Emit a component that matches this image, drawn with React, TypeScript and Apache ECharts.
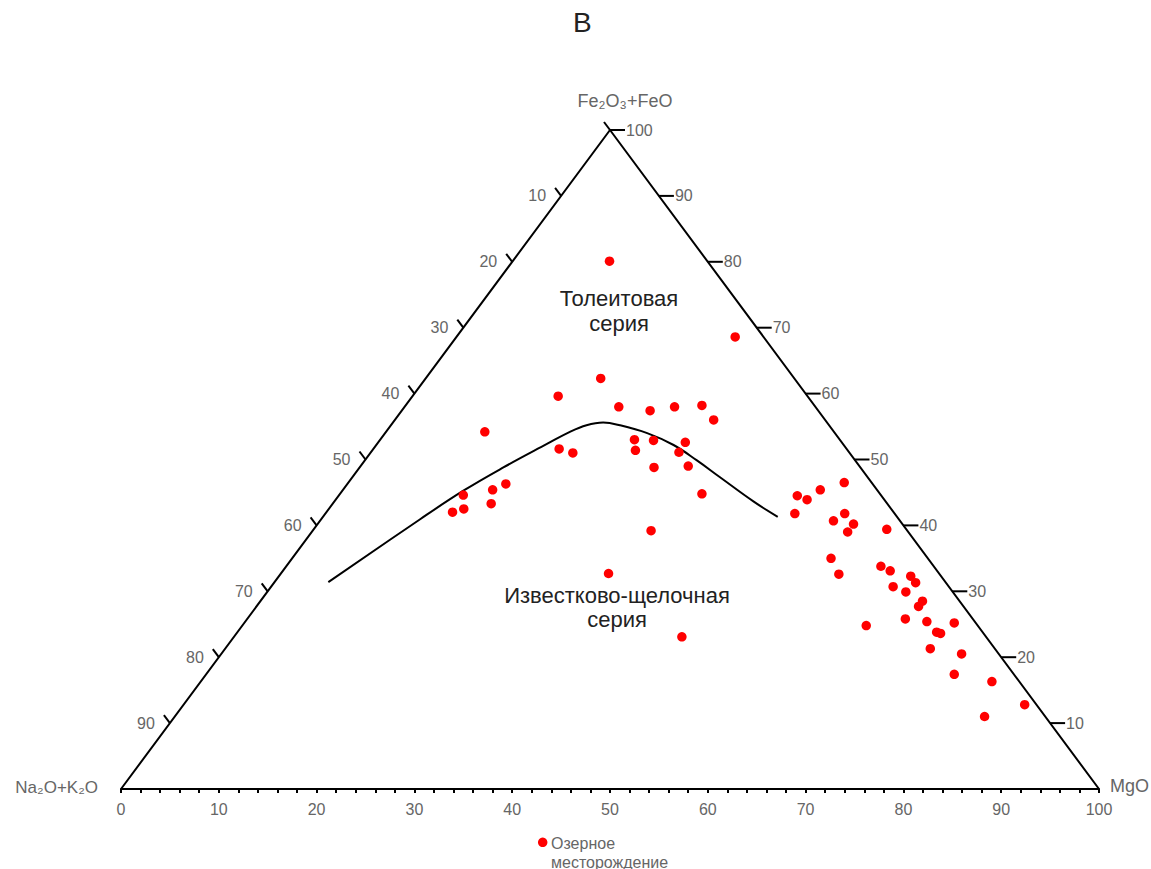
import React, { useEffect, useRef } from "react";
import * as echarts from "echarts";

const FONT = "'Liberation Sans', Arial, sans-serif";

const titleText = "В";
const seriesName = "Озерное\nместорождение";
const topName = "Fe₂O₃+FeO";
const leftName = "Na₂O+K₂O";
const rightName = "MgO";
const fieldUpper = "Толеитовая\nсерия";
const fieldLower = "Известково-щелочная\nсерия";

// Sample compositions (%): Fe2O3+FeO and MgO; Na2O+K2O is the remainder to 100
const pointFe = [
  80.1, 68.6, 62.3, 59.6, 58.0, 57.4, 58.0, 58.2, 56.0, 54.2,
  53.0, 52.9, 52.6, 51.6, 51.0, 51.4, 51.1, 48.8, 49.0, 46.3,
  45.4, 44.6, 44.8, 43.3, 42.5, 42.0, 39.2, 32.7, 23.1,
  46.5, 45.4, 44.5, 43.9, 41.8, 41.8, 40.7, 40.2, 39.0, 39.4,
  35.0, 32.6, 33.8, 33.1, 32.3, 31.3, 30.7, 29.9, 28.5, 27.7,
  24.8, 25.8, 25.4, 25.2, 23.8, 23.6, 21.3, 20.5, 17.4, 16.3,
  12.8, 11.0,
];
const pointMg = [
  9.9, 28.5, 17.9, 14.9, 21.9, 25.4, 27.6, 30.3, 32.6, 10.1,
  26.0, 28.0, 31.4, 19.0, 20.7, 26.9, 31.5, 30.1, 33.5, 16.2,
  15.3, 12.7, 37.0, 16.2, 13.8, 12.9, 34.6, 33.5, 45.8,
  50.7, 48.8, 46.9, 48.2, 48.0, 53.1, 52.5, 54.8, 54.8, 58.6,
  55.1, 57.1, 60.8, 62.1, 64.6, 65.6, 63.6, 65.3, 67.7, 67.7,
  63.8, 67.3, 69.7, 72.6, 71.5, 72.0, 72.1, 75.7, 76.5, 80.9,
  86.0, 82.8,
];

// Boundary between tholeiitic and calc-alkaline series
const curveFe = [31.4, 40.9, 45.3, 48.8, 52.4, 54.2, 55.2, 55.6, 55.2, 54.0, 52.2, 49.9, 47.3, 43.6, 41.3];
const curveMg = [5.5, 10.1, 12.4, 14.7, 17.4, 18.8, 20.0, 21.5, 23.4, 26.8, 30.4, 33.9, 37.6, 42.9, 46.5];

const leftTicks = [0, 10, 20, 30, 40, 50, 60, 70, 80, 90]; // Na2O+K2O
const rightTicks = [10, 20, 30, 40, 50, 60, 70, 80, 90, 100]; // Fe2O3+FeO

const toXY = (fe: number, mg: number) => [mg + fe / 2, fe];

export default function App() {
  const ref = useRef<HTMLDivElement>(null);

  useEffect(() => {
    document.body.style.margin = "0";
    if (!ref.current) return;
    const chart = echarts.init(ref.current, null, { renderer: "svg" });

    const points = pointFe.map((fe, i) => toXY(fe, pointMg[i]));
    const curve = curveFe.map((fe, i) => toXY(fe, curveMg[i]));

    chart.setOption({
      animation: false,
      backgroundColor: "#fff",
      textStyle: { fontFamily: FONT },
      title: {
        text: titleText,
        left: 573,
        top: 8,
        padding: 0,
        textStyle: { fontSize: 28, fontWeight: "normal", color: "#222", fontFamily: FONT },
      },
      grid: { left: 121, right: 52, top: 130, bottom: 80 },
      xAxis: {
        type: "value",
        min: 0,
        max: 100,
        interval: 2,
        axisLine: { show: true, lineStyle: { color: "#000", width: 2 } },
        axisTick: { show: true, length: 4, lineStyle: { color: "#000", width: 2 } },
        axisLabel: {
          interval: 0,
          margin: 12,
          color: "#666",
          fontSize: 16,
          fontFamily: FONT,
          showMinLabel: true,
          showMaxLabel: true,
          formatter: (v: number) => (Math.round(v) % 10 === 0 ? String(Math.round(v)) : ""),
        },
        splitLine: { show: false },
      },
      yAxis: {
        type: "value",
        min: 0,
        max: 100,
        show: false,
      },
      graphic: [
        {
          type: "text",
          x: 625,
          y: 101,
          style: { text: topName, align: "center", verticalAlign: "middle", fill: "#666", fontSize: 18, fontFamily: FONT },
        },
        {
          type: "text",
          x: 98,
          y: 787,
          style: { text: leftName, align: "right", verticalAlign: "middle", fill: "#666", fontSize: 17, fontFamily: FONT },
        },
        {
          type: "text",
          x: 1110,
          y: 786,
          style: { text: rightName, align: "left", verticalAlign: "middle", fill: "#666", fontSize: 18, fontFamily: FONT },
        },
        {
          type: "text",
          x: 619,
          y: 311,
          style: { text: fieldUpper, align: "center", verticalAlign: "middle", fill: "#222", fontSize: 22, lineHeight: 25, fontFamily: FONT },
        },
        {
          type: "text",
          x: 617,
          y: 607,
          style: { text: fieldLower, align: "center", verticalAlign: "middle", fill: "#222", fontSize: 22, lineHeight: 24, fontFamily: FONT },
        },
        // legend
        {
          type: "circle",
          shape: { cx: 542.7, cy: 842.3, r: 4.75 },
          style: { fill: "#ff0000" },
        },
        {
          type: "text",
          x: 551,
          y: 852.5,
          style: { text: seriesName, align: "left", verticalAlign: "middle", fill: "#666", fontSize: 16, lineHeight: 19, fontFamily: FONT },
        },
      ],
      series: [
        {
          type: "line",
          name: "edges",
          data: [[0, 0], [50, 100], [100, 0]],
          symbol: "none",
          lineStyle: { color: "#000", width: 2 },
          silent: true,
          clip: false,
          z: 3,
        },
        {
          type: "line",
          name: "boundary",
          data: curve,
          symbol: "none",
          smooth: 0.4,
          lineStyle: { color: "#000", width: 2 },
          silent: true,
          z: 3,
        },
        {
          type: "custom",
          name: "leftTicks",
          data: leftTicks.map((v) => [v]),
          silent: true,
          z: 4,
          renderItem: (_p: any, api: any) => {
            const v = api.value(0);
            const p = api.coord([(100 - v) / 2, 100 - v]);
            const children: any[] = [
              { type: "line", shape: { x1: p[0], y1: p[1], x2: p[0] - 6, y2: p[1] - 8 }, style: { stroke: "#000", lineWidth: 2 } },
            ];
            if (v > 0) {
              children.push({
                type: "text",
                x: p[0] - 15,
                y: p[1],
                style: { text: String(v), align: "right", verticalAlign: "middle", fill: "#666", fontSize: 16, fontFamily: FONT },
              });
            }
            return { type: "group", children };
          },
        },
        {
          type: "custom",
          name: "rightTicks",
          data: rightTicks.map((v) => [v]),
          silent: true,
          z: 4,
          renderItem: (_p: any, api: any) => {
            const v = api.value(0);
            const p = api.coord([100 - v / 2, v]);
            return {
              type: "group",
              children: [
                { type: "line", shape: { x1: p[0], y1: p[1], x2: p[0] + 15, y2: p[1] }, style: { stroke: "#000", lineWidth: 2 } },
                {
                  type: "text",
                  x: p[0] + 16,
                  y: p[1],
                  style: { text: String(v), align: "left", verticalAlign: "middle", fill: "#666", fontSize: 16, fontFamily: FONT },
                },
              ],
            };
          },
        },
        {
          type: "scatter",
          name: seriesName,
          data: points,
          symbol: "circle",
          symbolSize: 9.5,
          itemStyle: { color: "#ff0000", opacity: 1 },
          z: 5,
        },
      ],
    });

    return () => chart.dispose();
  }, []);

  return <div ref={ref} style={{ width: 1151, height: 869 }} />;
}
